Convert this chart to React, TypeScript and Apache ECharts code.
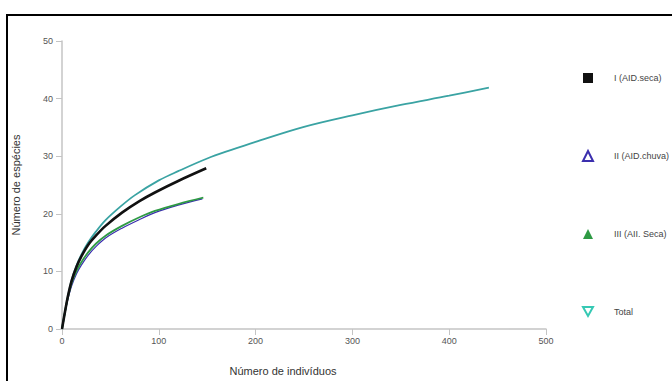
import React, { useEffect, useRef } from "react";
import * as echarts from "echarts";

// Rarefaction curves: number of species vs number of individuals
const seriesNames = ["I (AID.seca)", "II (AID.chuva)", "III (AII. Seca)", "Total"];

const totalN = [0, 3, 6, 10, 15, 20, 27, 35, 45, 60, 75, 100, 120, 150, 175, 200, 250, 300, 350, 400, 441];
const totalS = [0, 2.9, 5.6, 8.5, 11.0, 12.9, 15.0, 16.9, 18.9, 21.2, 23.2, 25.8, 27.4, 29.6, 31.1, 32.5, 35.1, 37.1, 38.9, 40.5, 41.9];

const secaN = [0, 3, 6, 10, 15, 20, 27, 35, 45, 62, 80, 96, 120, 149];
const secaS = [0, 2.9, 5.6, 8.4, 10.8, 12.6, 14.6, 16.2, 17.9, 20.2, 22.2, 23.7, 25.7, 27.9];

const chuvaN = [0, 3, 6, 10, 15, 20, 27, 35, 45, 62, 80, 96, 120, 145];
const chuvaS = [0, 2.8, 5.1, 7.5, 9.6, 11.1, 12.8, 14.3, 15.8, 17.5, 19.0, 20.2, 21.5, 22.6];

const aiiN = [0, 3, 6, 10, 15, 20, 27, 35, 45, 62, 80, 96, 120, 146];
const aiiS = [0, 2.9, 5.4, 8.0, 10.1, 11.6, 13.3, 14.8, 16.2, 17.9, 19.4, 20.5, 21.7, 22.8];

const xTicks = [0, 100, 200, 300, 400, 500];

const pairs = (n: number[], s: number[]) => n.map((v, i) => [v, s[i]]);

const COLORS = {
  seca: "#111111",
  chuva: "#3b2fae",
  aii: "#2e9a44",
  total: "#3aa3a3",
  totalLegend: "#36c9b4",
};

const axisGray = "#c4c4c4";
const labelGray = "#555555";
const font = "'Liberation Sans', Arial, sans-serif";

const curve = (name: string, data: number[][], color: string, width: number, z: number) => ({
  name,
  type: "line",
  smooth: 0.35,
  showSymbol: false,
  data,
  lineStyle: { color, width },
  itemStyle: { color },
  z,
});

export default function App() {
  const ref = useRef<HTMLDivElement>(null);

  useEffect(() => {
    if (!ref.current) return;
    const chart = echarts.init(ref.current, undefined, { renderer: "svg" });
    chart.setOption({
      animation: false,
      backgroundColor: "#ffffff",
      grid: { left: 62, top: 41, right: 126, bottom: 51, containLabel: false },
      xAxis: {
        type: "value",
        min: xTicks[0],
        max: xTicks[xTicks.length - 1],
        interval: 100,
        name: "Número de indivíduos",
        nameLocation: "middle",
        nameGap: 36,
        nameTextStyle: { fontFamily: font, fontSize: 11, color: "#333", padding: [0, 42, 0, 0] },
        axisLine: { show: true, lineStyle: { color: axisGray, width: 1.5 } },
        axisTick: { show: true, length: 6, lineStyle: { color: axisGray } },
        axisLabel: { fontFamily: font, fontSize: 9, color: labelGray, margin: 7 },
        splitLine: { show: false },
      },
      yAxis: {
        type: "value",
        min: 0,
        max: 50,
        interval: 10,
        name: "Número de espécies",
        nameLocation: "middle",
        nameGap: 41,
        nameTextStyle: { fontFamily: font, fontSize: 11, color: "#333" },
        axisLine: { show: true, lineStyle: { color: axisGray, width: 1.5 } },
        axisTick: { show: true, length: 6, lineStyle: { color: axisGray } },
        axisLabel: { fontFamily: font, fontSize: 9, color: labelGray, margin: 9 },
        splitLine: { show: false },
      },
      legend: {
        orient: "vertical",
        left: 577,
        top: 68,
        itemWidth: 10,
        itemHeight: 10,
        itemGap: 67,
        selectedMode: false,
        textStyle: { fontFamily: font, fontSize: 9, color: "#444", padding: [0, 0, 0, 16], lineHeight: 10 },
        data: [
          { name: seriesNames[0], icon: "rect", itemStyle: { color: COLORS.seca } },
          {
            name: seriesNames[1],
            icon: "triangle",
            itemStyle: { color: "#ffffff", borderColor: COLORS.chuva, borderWidth: 2 },
          },
          { name: seriesNames[2], icon: "triangle", itemStyle: { color: COLORS.aii } },
          {
            name: seriesNames[3],
            icon: "path://M0,0L10,0L5,9Z",
            itemStyle: { color: "#ffffff", borderColor: COLORS.totalLegend, borderWidth: 2 },
          },
        ],
      },
      series: [
        curve(seriesNames[3], pairs(totalN, totalS), COLORS.total, 1.8, 2),
        curve(seriesNames[1], pairs(chuvaN, chuvaS), COLORS.chuva, 1.2, 3),
        curve(seriesNames[2], pairs(aiiN, aiiS), COLORS.aii, 1.8, 4),
        curve(seriesNames[0], pairs(secaN, secaS), COLORS.seca, 2.6, 5),
      ],
      graphic: [
        { type: "line", shape: { x1: 7, y1: 14, x2: 7, y2: 381 }, style: { stroke: "#000", lineWidth: 2 } },
        { type: "line", shape: { x1: 6, y1: 15, x2: 672, y2: 15 }, style: { stroke: "#000", lineWidth: 2 } },
      ],
    });
    return () => chart.dispose();
  }, []);

  return (
    <div style={{ position: "fixed", left: 0, top: 0, width: 672, height: 381, overflow: "hidden" }}>
      <div ref={ref} style={{ width: 672, height: 381 }} />
    </div>
  );
}
